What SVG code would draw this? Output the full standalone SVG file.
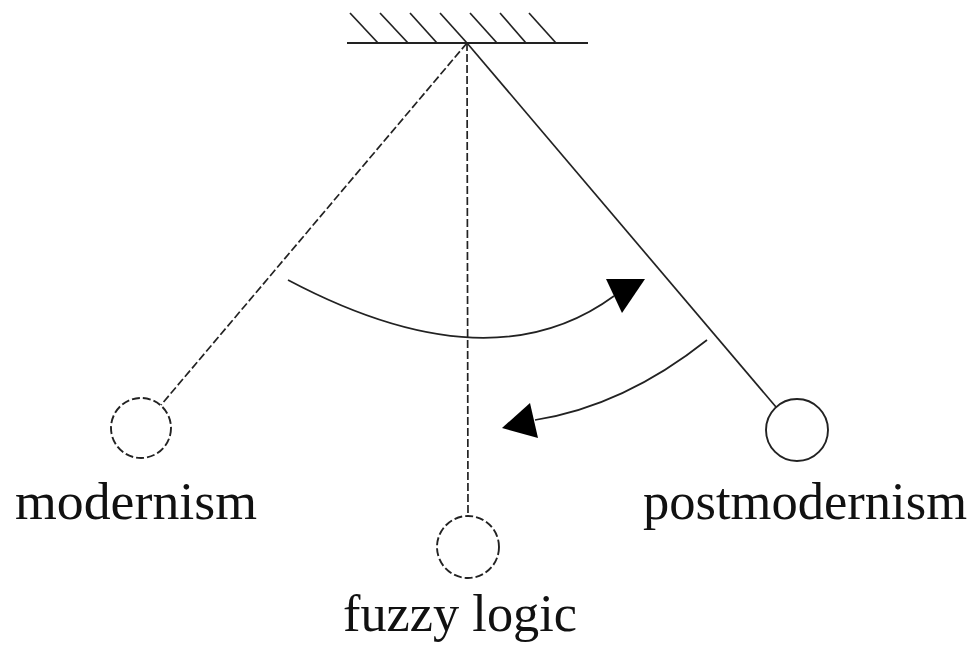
<svg xmlns="http://www.w3.org/2000/svg" width="972" height="649" viewBox="0 0 972 649">
<style>
.ln{stroke:#222;stroke-width:1.7;fill:none}
.ds{stroke-dasharray:8 3}
.bob{fill:#fff;stroke:#222;stroke-width:1.9}
.lbl{font-family:"Liberation Serif","Times New Roman",serif;font-size:53px;fill:#111}
.ah{fill:#000}
</style>
<rect width="972" height="649" fill="#fff"/>
<g id="support">
<line class="ln" x1="347" y1="43" x2="588" y2="43" style="stroke-width:2"/>
<line class="ln" x1="350" y1="13" x2="378" y2="43"/>
<line class="ln" x1="380" y1="13" x2="408" y2="43"/>
<line class="ln" x1="410" y1="13" x2="437" y2="43"/>
<line class="ln" x1="440" y1="13" x2="467" y2="43"/>
<line class="ln" x1="470" y1="13" x2="497" y2="43"/>
<line class="ln" x1="500" y1="13" x2="526" y2="43"/>
<line class="ln" x1="529" y1="13" x2="556" y2="43"/>
</g>
<g id="connectors">
<line class="ln ds" x1="467" y1="43" x2="161" y2="405"/>
<line class="ln ds" x1="467" y1="43" x2="468" y2="516"/>
<line class="ln" x1="467" y1="43" x2="776" y2="407"/>
<path class="ln" d="M288,280 Q490,387 614,296"/>
<polygon class="ah" points="606,279 645,279 622,313"/>
<path class="ln" d="M707,340 Q624,406 535,420"/>
<polygon class="ah" points="530,403 502,428 538,438"/>
</g>
<g id="modernism">
<circle class="bob ds" cx="141" cy="428" r="30"/>
<text class="lbl" x="15" y="519" textLength="242" lengthAdjust="spacingAndGlyphs">modernism</text>
</g>
<g id="fuzzy-logic">
<circle class="bob ds" cx="468" cy="547" r="31"/>
<text class="lbl" x="343" y="631" textLength="234" lengthAdjust="spacingAndGlyphs">fuzzy logic</text>
</g>
<g id="postmodernism">
<circle class="bob" cx="797" cy="430" r="31"/>
<text class="lbl" x="643" y="519" textLength="324" lengthAdjust="spacingAndGlyphs">postmodernism</text>
</g>
</svg>
